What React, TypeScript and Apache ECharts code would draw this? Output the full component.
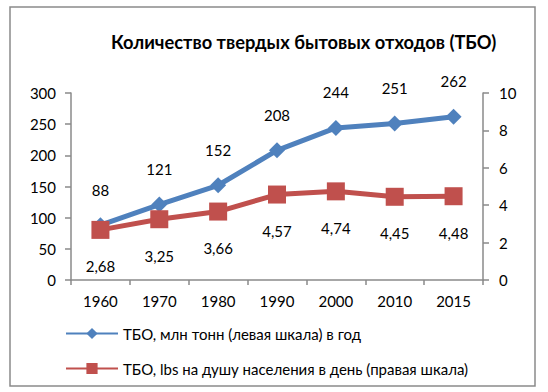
import React, { useEffect, useRef } from "react";
import * as echarts from "echarts";

const years = ["1960", "1970", "1980", "1990", "2000", "2010", "2015"];
const tonnes = [88, 121, 152, 208, 244, 251, 262];
const lbsPerDay = [2.68, 3.25, 3.66, 4.57, 4.74, 4.45, 4.48];
const leftTicks = [0, 300, 50];
const rightTicks = [0, 10, 2];
const titleText = "Количество твердых бытовых отходов (ТБО)";
const seriesNames = [
  "ТБО, млн тонн (левая шкала) в год",
  "ТБО, lbs на душу населения в день (правая шкала)",
];

const FONT = "Lato, 'Open Sans', sans-serif";

export default function App() {
  const ref = useRef<HTMLDivElement>(null);
  useEffect(() => {
    if (!ref.current) return;
    const chart = echarts.init(ref.current, null, { renderer: "svg" });
    const axisLine = { show: true, lineStyle: { color: "#8a8a8a", width: 1.5 } };
    chart.setOption({
      animation: false,
      backgroundColor: "#ffffff",
      textStyle: { fontFamily: FONT },
      title: {
        text: titleText,
        left: 106,
        top: 28,
        textStyle: { fontFamily: FONT, fontSize: 18.3, fontWeight: "bold", color: "#000" },
      },
      graphic: [
        {
          type: "rect",
          shape: { x: 10, y: 7, width: 525, height: 379 },
          style: { fill: "none", stroke: "#8a8a8a", lineWidth: 1.5 },
          silent: true,
        },
      ],
      grid: { left: 71, right: 65, top: 93, bottom: 112 },
      legend: {
        orient: "vertical",
        left: 60,
        top: 321,
        itemWidth: 52,
        itemHeight: 14,
        itemGap: 20,
        textStyle: { fontFamily: FONT, fontSize: 15, color: "#000" },
        data: seriesNames,
      },
      xAxis: {
        type: "category",
        data: years,
        boundaryGap: true,
        axisLine,
        axisTick: { show: true, alignWithLabel: false, length: 5, lineStyle: { color: "#8a8a8a", width: 1.5 } },
        axisLabel: { fontFamily: FONT, fontSize: 15, color: "#000", margin: 13 },
        splitLine: { show: false },
      },
      yAxis: [
        {
          type: "value",
          min: leftTicks[0],
          max: leftTicks[1],
          interval: leftTicks[2],
          position: "left",
          axisLine,
          axisTick: { show: true, length: 6, lineStyle: { color: "#8a8a8a", width: 1.5 } },
          axisLabel: { fontFamily: FONT, fontSize: 15, color: "#000", margin: 15 },
          splitLine: { show: false },
        },
        {
          type: "value",
          min: rightTicks[0],
          max: rightTicks[1],
          interval: rightTicks[2],
          position: "right",
          axisLine,
          axisTick: { show: true, length: 6, lineStyle: { color: "#8a8a8a", width: 1.5 } },
          axisLabel: { fontFamily: FONT, fontSize: 15, color: "#000", margin: 16 },
          splitLine: { show: false },
        },
      ],
      series: [
        {
          name: seriesNames[0],
          type: "line",
          yAxisIndex: 0,
          data: tonnes,
          symbol: "diamond",
          symbolSize: 16,
          lineStyle: { color: "#4F81BD", width: 5 },
          itemStyle: { color: "#4F81BD" },
          label: {
            show: true,
            position: "top",
            distance: 20,
            fontFamily: FONT,
            fontSize: 15,
            color: "#000",
          },
          z: 3,
        },
        {
          name: seriesNames[1],
          type: "line",
          yAxisIndex: 1,
          data: lbsPerDay,
          symbol: "rect",
          symbolSize: 18,
          lineStyle: { color: "#C0504D", width: 5 },
          itemStyle: { color: "#C0504D" },
          label: {
            show: true,
            position: "bottom",
            distance: 20,
            fontFamily: FONT,
            fontSize: 15,
            color: "#000",
            formatter: (p: any) => String(p.value.toFixed(2)).replace(".", ","),
          },
          z: 4,
        },
      ],
    });
    return () => chart.dispose();
  }, []);
  return (
    <div
      ref={ref}
      style={{ position: "fixed", left: 0, top: 0, width: 548, height: 392 }}
    />
  );
}
